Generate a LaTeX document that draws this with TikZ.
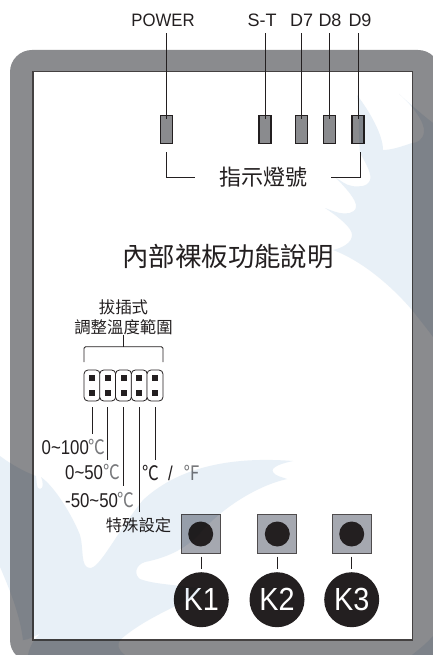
\documentclass[tikz,border=0pt]{standalone}
\usepackage{fontspec}
\setmainfont{Liberation Sans}
\newfontfamily\cjkfont{Noto Sans CJK TC}
\usetikzlibrary{positioning}
\definecolor{inkdark}{HTML}{231F20}
\definecolor{casegray}{HTML}{8A8B8E}
\definecolor{keygray}{HTML}{A5A8B0}
\definecolor{waterblue}{HTML}{E8F0F7}
\definecolor{unitgray}{HTML}{77787B}

\begin{document}
\begin{tikzpicture}[
        x=1pt, y=-1pt,
        text=inkdark,
        lead/.style={draw=inkdark, line width=0.9pt},
        led/.style={draw=inkdark, fill=casegray, line width=1.1pt, minimum width=12pt, minimum height=28pt, inner sep=0pt, outer sep=0pt},
        ledname/.style={font=\fontsize{18}{20}\selectfont, inner sep=0pt, text height=13pt, text depth=0pt},
        jumper/.style={draw=inkdark, fill=white, line width=0.8pt, rounded corners=4pt, minimum width=16pt, minimum height=31pt, inner sep=0pt, outer sep=0pt},
        jumperpin/.style={fill=inkdark, minimum size=6pt, inner sep=0pt, outer sep=0pt},
        rangename/.style={font=\fontsize{20}{22}\selectfont, inner sep=0pt, text height=14pt, text depth=0pt},
        keybox/.style={draw=inkdark!80, fill=keygray, line width=0.8pt, minimum size=39pt, inner sep=0pt, outer sep=0pt},
        keycap/.style={circle, fill=inkdark, minimum size=25pt, inner sep=0pt},
        keyname/.style={circle, fill=inkdark, text=white, minimum size=55pt, inner sep=0pt, outer sep=0pt, font=\fontsize{32}{34}\selectfont}
        ]
        \def\unit#1{{\cjkfont\color{unitgray}#1}}
        \def\slim#1#2{\scalebox{#1}[1]{#2}}
        \clip (0,0) rectangle (433,655);
        \fill[white] (0,0) rectangle (433,655);
        
        % --- Case and inner panel ---
        \fill[casegray, rounded corners=22pt] (10,50) rectangle (440,662);
        \draw[fill=white, draw=inkdark!85, line width=1.1pt] (33,71.5) rectangle (412.5,640);
        
        % LEDs
        \node[led] (led_power) at (166.5,129.5) {};
        \node[led] (led_st)    at (265,129.5)   {};
        \node[led] (led_d7)    at (301.7,129.5) {};
        \node[led] (led_d8)    at (329.8,129.5) {};
        \node[led] (led_d9)    at (358,129.5)   {};
        
        % LED names
        \node[ledname] (name_power) at (163,20)   {\slim{.93}{POWER}};
        \node[ledname] (name_st)    at (262,20)   {S-T};
        \node[ledname] (name_d7)    at (301.7,20) {D7};
        \node[ledname] (name_d8)    at (330,20)   {D8};
        \node[ledname] (name_d9)    at (360,20)   {D9};
        
        % Titles
        \node[font=\cjkfont\fontsize{22}{24}\selectfont, inner sep=0pt] (led_title) at (263,177) {指示燈號};
        \node[font=\cjkfont\fontsize{26.4}{28}\selectfont, inner sep=0pt] (board_title) at (228,257) {內部裸板功能說明};
        \node[font=\cjkfont\fontsize{16.4}{20}\selectfont, inner sep=0pt, align=center] (jumper_title) at (123.5,317) {拔插式\\調整溫度範圍};
        
        % Jumper block
        \node[jumper] (jp1) at (92,385.5)    {};
        \node[jumper] (jp2) at (107.7,385.5) {};
        \node[jumper] (jp3) at (123.5,385.5) {};
        \node[jumper] (jp4) at (139.3,385.5) {};
        \node[jumper] (jp5) at (155,385.5)   {};
        
        \node[jumperpin] (pin1a) at (92,378.3)    {};
        \node[jumperpin] (pin1b) at (92,392.7)    {};
        \node[jumperpin] (pin2a) at (107.7,378.3) {};
        \node[jumperpin] (pin2b) at (107.7,392.7) {};
        \node[jumperpin] (pin3a) at (123.5,378.3) {};
        \node[jumperpin] (pin3b) at (123.5,392.7) {};
        \node[jumperpin] (pin4a) at (139.3,378.3) {};
        \node[jumperpin] (pin4b) at (139.3,392.7) {};
        \node[jumperpin] (pin5a) at (155,378.3)   {};
        \node[jumperpin] (pin5b) at (155,392.7)   {};
        
        % Range names
        \node[rangename, anchor=west] (range_100)  at (41.5,447.5) {\slim{.84}{0\char`\~100\unit{℃}}};
        \node[rangename, anchor=west] (range_50)   at (65,472)     {\slim{.84}{0\char`\~50\unit{℃}}};
        \node[rangename, anchor=west] (range_5050) at (65,500)     {\slim{.84}{-50\char`\~50\unit{℃}}};
        \node[rangename, anchor=west] (range_unit) at (142,473)    {\slim{.84}{{\cjkfont ℃}\hspace{11pt}/\hspace{13pt}\unit{℉}}};
        \node[font=\cjkfont\fontsize{16.3}{18}\selectfont, inner sep=0pt, text height=12pt, text depth=1pt] (range_special) at (138.5,526) {特殊設定};
        
        % Keys
        \node[keybox] (box_k1) at (200.7,534) {};
        \node[keybox] (box_k2) at (277.3,534) {};
        \node[keybox] (box_k3) at (351.7,534) {};
        \node[keycap] (cap_k1) at (box_k1) {};
        \node[keycap] (cap_k2) at (box_k2) {};
        \node[keycap] (cap_k3) at (box_k3) {};
        \node[keyname] (k1) at (201.3,599.7) {\slim{.9}{K1}};
        \node[keyname] (k2) at (277,599.7)   {\slim{.9}{K2}};
        \node[keyname] (k3) at (351.7,599.7) {\slim{.9}{K3}};
        
        % Arrows
        \draw[lead, shorten <=6.5pt] (led_power.north |- name_power.south) -- ([yshift=-4pt]led_power.north);
        \draw[lead, shorten <=6.5pt] (led_st.north |- name_st.south) -- ([yshift=-4pt]led_st.north);
        \draw[lead, shorten <=6.5pt] (led_d7.north |- name_d7.south) -- ([yshift=-4pt]led_d7.north);
        \draw[lead, shorten <=6.5pt] (led_d8.north |- name_d8.south) -- ([yshift=-4pt]led_d8.north);
        \draw[lead, shorten <=6.5pt] (led_d9.north |- name_d9.south) -- ([yshift=-4pt]led_d9.north);
        
        \draw[lead, shorten <=9pt, shorten >=24pt] (led_power.south) |- (led_title.west);
        \draw[lead, shorten <=9pt, shorten >=24pt] ([xshift=2pt]led_d9.south) |- (led_title.east);
        
        \draw[lead] (jumper_title.south) -- ++(0,12) coordinate (brace_mid);
        \coordinate (brace_l) at (jp1.north west |- 0,362);
        \coordinate (brace_r) at (jp5.north east |- 0,362);
        \draw[lead, rounded corners=1.5pt] (brace_l) |- (brace_mid) -| (brace_r);
        
        \draw[lead, shorten <=6pt, shorten >=6pt] (jp1.south) -- (jp1.south |- range_100.north);
        \draw[lead, shorten <=6pt, shorten >=5pt] (jp2.south) -- (jp2.south |- range_50.north);
        \draw[lead, shorten <=6pt, shorten >=7pt] (jp3.south) -- (jp3.south |- range_5050.north);
        \draw[lead, shorten <=6pt, shorten >=7pt] (jp4.south) -- (jp4.south |- range_special.north);
        \draw[lead, shorten <=6pt, shorten >=6pt] (jp5.south) -- (jp5.south |- range_unit.north);
        
        \draw[lead, shorten <=3pt, shorten >=3pt] (k1.north |- box_k1.south) -- (k1.north);
        \draw[lead, shorten <=3pt, shorten >=3pt] (k2.north |- box_k2.south) -- (k2.north);
        \draw[lead, shorten <=3pt, shorten >=3pt] (k3.north |- box_k3.south) -- (k3.north);
        
        % --- Watermark over everything ---
        \fill[waterblue, blend mode=multiply]
            (399,94) .. controls (412,105) and (425,122) .. (424,132)
            .. controls (423,140) and (417,143) .. (412,143)
            .. controls (403,146) and (392,150) .. (383,150)
            .. controls (383,135) and (370,112) .. (357,95)
            .. controls (360,115) and (358,135) .. (360,153)
            .. controls (367,165) and (372,175) .. (370,180)
            .. controls (368,187) and (358,187) .. (352,186)
            .. controls (345,185) and (340,180) .. (335,177)
            .. controls (345,187) and (357,200) .. (356,207)
            .. controls (355,214) and (345,214) .. (340,213)
            .. controls (335,212) and (330,210) .. (325,208)
            .. controls (340,218) and (352,228) .. (352,235)
            .. controls (352,243) and (342,248) .. (333,250)
            .. controls (365,262) and (395,290) .. (412,310)
            .. controls (420,320) and (428,330) .. (433,337)
            -- (433,123) .. controls (420,113) and (408,102) .. (399,94) -- cycle;
        \fill[waterblue, blend mode=multiply]
            (0,456) .. controls (12,465) and (25,472) .. (36,476)
            .. controls (37,482) and (36,489) .. (40,489)
            .. controls (44,489) and (43,481) .. (41,477)
            .. controls (55,487) and (72,515) .. (80,535)
            .. controls (84,548) and (80,568) .. (90,568)
            .. controls (100,568) and (115,535) .. (143,500)
            .. controls (170,475) and (215,455) .. (293,461)
            .. controls (283,463) and (270,467) .. (273,472)
            .. controls (275,476) and (282,477) .. (287,479)
            .. controls (260,485) and (225,505) .. (200,533)
            .. controls (185,550) and (165,558) .. (145,562)
            .. controls (135,565) and (134,575) .. (140,579)
            .. controls (155,585) and (185,585) .. (208,590)
            .. controls (180,605) and (145,618) .. (120,640)
            .. controls (117,645) and (118,650) .. (125,655)
            -- (28,655) .. controls (30,645) and (35,638) .. (41,633)
            .. controls (35,636) and (28,640) .. (23,640)
            .. controls (20,615) and (10,590) .. (0,567) -- cycle;
        \fill[waterblue, blend mode=multiply] (433,636) .. controls (425,645) and (418,650) .. (412,655) -- (433,655) -- cycle;
        
    \end{tikzpicture}
\end{document}
